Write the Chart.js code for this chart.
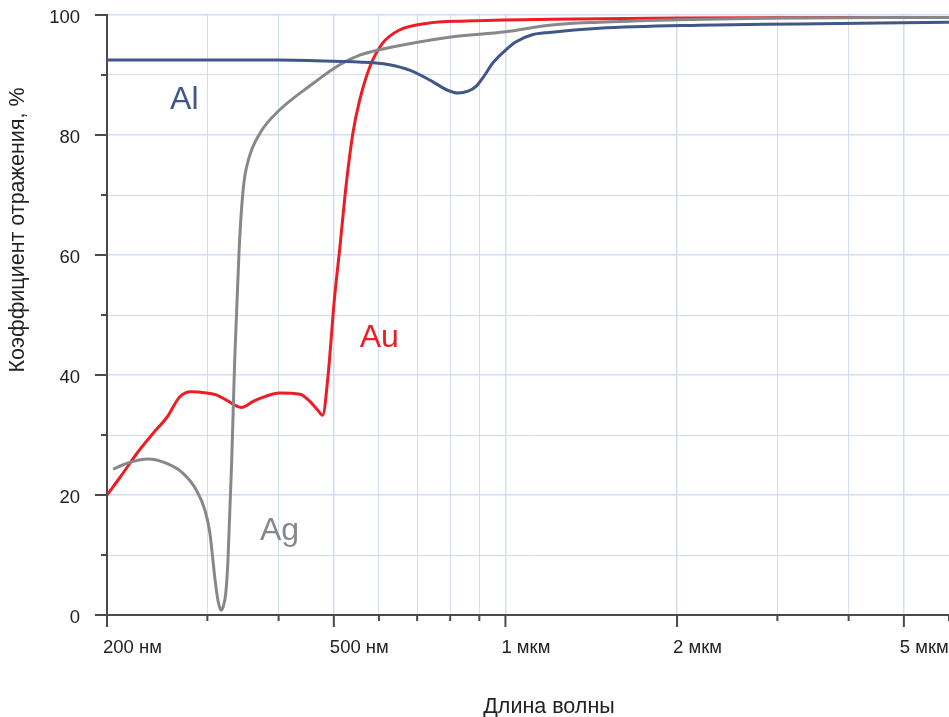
<!DOCTYPE html>
<html>
<head>
<meta charset="utf-8">
<script src="https://cdn.jsdelivr.net/npm/chart.js@4"></script>
<style>
  html, body { margin: 0; padding: 0; background: #fff; }
  #chart { display: block; }
</style>
</head>
<body>
<canvas id="chart" width="949" height="717"></canvas>
<script>
// Длины волн (нм) и коэффициенты отражения (%)
const alWave = [200, 300, 400, 500, 593, 626, 679, 745, 790, 825, 860, 888, 920, 950, 1002, 1042, 1114, 1194, 1460, 2186, 3271, 6000];
const alValues = [92.5, 92.5, 92.5, 92.3, 92, 91.7, 90.8, 88.9, 87.5, 87, 87.3, 88.1, 90, 92, 94.2, 95.5, 96.7, 97.1, 97.8, 98.3, 98.5, 98.8];

const auWave = [200, 211, 228, 241, 255, 268, 281, 299, 311, 324, 344, 361, 371, 402, 436, 454, 468, 478, 488, 501, 512, 526, 540, 555, 578, 609, 652, 726, 853, 1200, 2000, 6000];
const auValues = [20, 23, 27.5, 30.3, 33, 36.3, 37.2, 37, 36.7, 35.8, 34.6, 35.6, 36.1, 37, 36.8, 35.6, 34.2, 33.3, 39.5, 52.5, 61, 72, 80.3, 85.8, 91.3, 95.3, 97.5, 98.6, 99, 99.3, 99.5, 99.6];

const agWave = [205, 217, 236, 254, 272, 287, 297, 303, 309, 313, 317, 320, 323, 326, 331, 335, 341, 347, 354, 371, 402, 454, 512, 555, 601, 797, 1000, 1194, 1460, 2000, 3000, 6000];
const agValues = [24.3, 25.3, 26, 25.3, 23.6, 20.8, 17.5, 13.7, 6.4, 2.5, 0.8, 1.5, 3.5, 9, 25.8, 42.5, 60.8, 71.3, 75.8, 80.3, 84.2, 88.2, 91.7, 93.3, 94.2, 96.3, 97.2, 98.3, 98.8, 99.2, 99.5, 99.6];

const xTickValues = [200, 300, 400, 500, 600, 700, 800, 900, 1000, 2000, 3000, 4000, 5000, 6000];
const xTickLabels = { 200: "200 нм", 500: "500 нм", 1000: "1 мкм", 2000: "2 мкм", 5000: "5 мкм" };

const curveNames = ["Al", "Au", "Ag"];
const curveColors = ["#3f5888", "#ee1c25", "#88888a"];

const FONT = "'Liberation Sans', Arial, sans-serif";
const AXIS_COLOR = "#4a4a4a";
const GRID_COLOR = "#d2ddf1";

function toPoints(xs, ys) {
  return xs.map((x, i) => ({ x: x, y: ys[i] }));
}

// убираем лишние отступы под подписи
function noPadding(scale) {
  scale.paddingTop = 0;
  scale.paddingBottom = 0;
  scale.paddingLeft = 0;
  scale.paddingRight = 0;
}

// засечки осей и подписи
const decorPlugin = {
  id: "decor",
  afterDraw(chart) {
    const ctx = chart.ctx;
    const xs = chart.scales.x;
    const ys = chart.scales.y;
    const area = chart.chartArea;

    ctx.save();
    ctx.strokeStyle = AXIS_COLOR;
    ctx.lineWidth = 2;
    ctx.beginPath();
    xTickValues.forEach((v) => {
      const px = xs.getPixelForValue(v);
      const len = xTickLabels[v] ? 12 : 6;
      ctx.moveTo(px, area.bottom);
      ctx.lineTo(px, area.bottom + len);
    });
    ys.ticks.forEach((t) => {
      const py = ys.getPixelForValue(t.value);
      const len = t.value % 20 === 0 ? 12 : 6;
      ctx.moveTo(area.left, py);
      ctx.lineTo(area.left - len, py);
    });
    ctx.stroke();

    // названия металлов
    const labelPos = [
      [258, 84.3],
      [555, 44.7],
      [371, 12.5],
    ];
    ctx.font = "32px " + FONT;
    ctx.textAlign = "left";
    ctx.textBaseline = "alphabetic";
    curveNames.forEach((name, i) => {
      ctx.fillStyle = curveColors[i];
      ctx.fillText(name, xs.getPixelForValue(labelPos[i][0]), ys.getPixelForValue(labelPos[i][1]));
    });

    // подписи осей
    ctx.fillStyle = "#222";
    ctx.font = "21.5px " + FONT;
    ctx.textAlign = "center";
    ctx.textBaseline = "middle";
    ctx.fillText("Длина волны", 549, 707);
    ctx.translate(18, 230);
    ctx.rotate(-Math.PI / 2);
    ctx.fillText("Коэффициент отражения, %", 0, 0);
    ctx.restore();
  },
};

const chart = new Chart(document.getElementById("chart"), {
  type: "line",
  data: {
    datasets: [
      { label: "Al", data: toPoints(alWave, alValues), borderColor: curveColors[0] },
      { label: "Ag", data: toPoints(agWave, agValues), borderColor: curveColors[2] },
      { label: "Au", data: toPoints(auWave, auValues), borderColor: curveColors[1] },
    ],
  },
  options: {
    responsive: false,
    animation: false,
    devicePixelRatio: 1,
    layout: { padding: { top: 15, right: 0, left: 0, bottom: 0 } },
    elements: {
      line: { borderWidth: 3, cubicInterpolationMode: "monotone", fill: false },
      point: { radius: 0, hoverRadius: 0 },
    },
    plugins: {
      legend: { display: false },
      tooltip: { enabled: false },
    },
    scales: {
      x: {
        type: "logarithmic",
        min: 200,
        max: 6000,
        afterFit: (scale) => {
          scale.height = 102;
          noPadding(scale);
        },
        afterBuildTicks: (scale) => {
          scale.ticks = xTickValues.map((v) => ({ value: v }));
        },
        border: { color: AXIS_COLOR, width: 2 },
        grid: {
          drawTicks: false,
          color: GRID_COLOR,
          lineWidth: (c) => (c.tick && xTickLabels[c.tick.value] ? 1.5 : 1),
        },
        ticks: {
          autoSkip: false,
          maxRotation: 0,
          align: "start",
          labelOffset: -4,
          padding: 22,
          color: "#222",
          font: { family: FONT, size: 18.5 },
          callback: (v) => xTickLabels[v] || "",
        },
      },
      y: {
        min: 0,
        max: 100,
        afterFit: (scale) => {
          scale.width = 107;
          noPadding(scale);
        },
        border: { color: AXIS_COLOR, width: 2 },
        grid: {
          drawTicks: false,
          color: GRID_COLOR,
          lineWidth: (c) => (c.tick && c.tick.value % 20 === 0 ? 1.5 : 1),
        },
        ticks: {
          stepSize: 10,
          padding: 27,
          labelOffset: 3,
          color: "#222",
          font: { family: FONT, size: 18.5 },
          callback: (v) => (v % 20 === 0 ? String(v) : ""),
        },
      },
    },
  },
  plugins: [decorPlugin],
});
</script>
</body>
</html>
